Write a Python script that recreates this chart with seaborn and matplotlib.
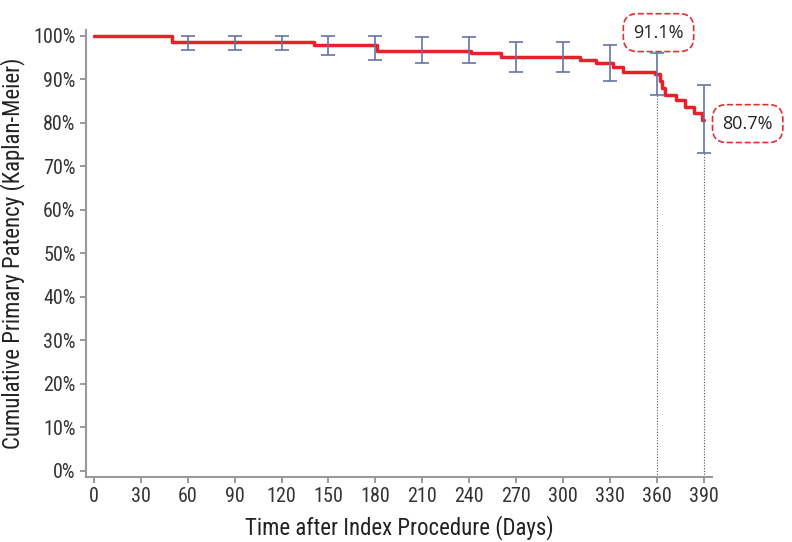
import matplotlib
matplotlib.use("Agg")
import matplotlib.pyplot as plt
import seaborn as sns
import pandas as pd
import numpy as np

# Kaplan-Meier estimate (days, % patent)
km_days = [0, 50, 141, 181, 241, 260, 311, 321, 332, 338, 359, 362, 363, 365, 372, 378, 384, 389, 390]
km_surv = [100, 98.5, 97.8, 96.4, 96.0, 95.0, 94.5, 93.8, 92.7, 91.7, 91.1, 89.6, 88.0, 86.4, 85.3, 83.7, 82.3, 80.7, 80.7]

# confidence interval bars
ci_days = [60, 90, 120, 150, 180, 210, 240, 270, 300, 330, 360, 390]
ci_upper = [100, 100, 100, 100, 100, 99.8, 99.8, 98.5, 98.5, 97.8, 96.0, 88.7]
ci_lower = [96.8, 96.8, 96.8, 95.6, 94.4, 93.7, 93.7, 91.7, 91.7, 89.5, 86.3, 73.0]

# callouts
mark_days = [360, 390]
mark_labels = ["91.1%", "80.7%"]

x_ticks = list(range(0, 391, 30))
y_ticks = list(range(0, 101, 10))

sns.set_style("white")
plt.rcParams['font.family'] = ['Roboto Condensed', 'DejaVu Sans']

fig = plt.figure(figsize=(7.92, 5.42), dpi=100)
ax = fig.add_axes([0.1086, 0.12, 0.79, 0.8254])

df = pd.DataFrame({'Days': km_days, 'Survival': km_surv})
sns.lineplot(data=df, x='Days', y='Survival', drawstyle='steps-post', color='#e8202a',
             linewidth=2.5, ax=ax, zorder=3, estimator=None)

mid = (np.array(ci_upper) + np.array(ci_lower)) / 2
half = (np.array(ci_upper) - np.array(ci_lower)) / 2
ax.errorbar(ci_days, mid, yerr=half, fmt='none', ecolor='#6474a8', elinewidth=1.2,
            capsize=5, capthick=1.2, zorder=4)

ymin, ymax = -1.4, 101.4
low_at_mark = [ci_lower[ci_days.index(d)] for d in mark_days]
ax.vlines(mark_days, ymin, low_at_mark, colors='#555555', linestyles=(0, (1, 1.5)), linewidth=0.8, zorder=2)

box = dict(boxstyle='round,pad=0.55,rounding_size=0.8', fc='white', ec='#e03030', ls='--', lw=1.2)
ax.text(361, 100.7, mark_labels[0], fontsize=13, family=['Open Sans', 'DejaVu Sans'], color='#222222',
        ha='center', va='center', clip_on=False, bbox=box)
ax.text(418, 79.8, mark_labels[1], fontsize=13, family=['Open Sans', 'DejaVu Sans'], color='#222222',
        ha='center', va='center', clip_on=False, bbox=box)

ax.set_xlim(-5, 395)
ax.set_ylim(ymin, ymax)
ax.set_xticks(x_ticks)
ax.set_yticks(y_ticks)
ax.set_yticklabels([f"{v}%" for v in y_ticks])
ax.tick_params(axis='both', labelsize=14.5, colors='#333333', length=4, width=1.2, direction='out',
               bottom=True, left=True, color='#888888')
for s in ['top', 'right']:
    ax.spines[s].set_visible(False)
for s in ['left', 'bottom']:
    ax.spines[s].set_color('#999999')
    ax.spines[s].set_linewidth(1.5)

ax.set_xlabel('Time after Index Procedure (Days)', fontsize=16.5, color='#222222', labelpad=6)
ax.set_ylabel('Cumulative Primary Patency (Kaplan-Meier)', fontsize=16.5, color='#222222', labelpad=6)

fig.savefig('out.png', dpi=100)
